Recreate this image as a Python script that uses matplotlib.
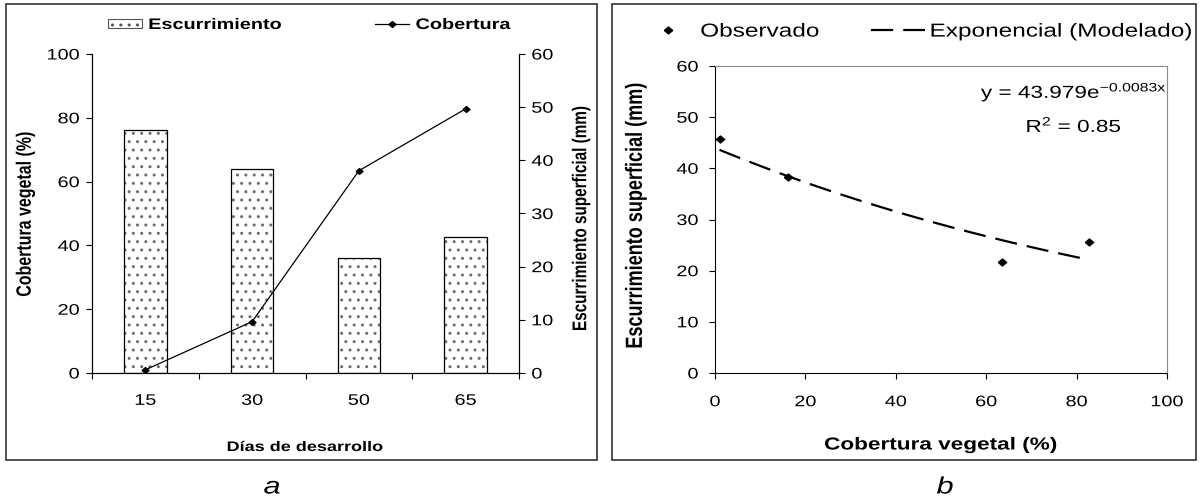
import numpy as np
import matplotlib
matplotlib.use('Agg')
import matplotlib.pyplot as plt
from matplotlib.patches import Rectangle
from matplotlib.lines import Line2D
from matplotlib.text import Text
from matplotlib.patheffects import AbstractPathEffect
from matplotlib.transforms import Affine2D

plt.rcParams['font.family'] = ['Liberation Sans', 'DejaVu Sans']
plt.rcParams['mathtext.fontset'] = 'custom'
plt.rcParams['mathtext.rm'] = 'Liberation Sans'
plt.rcParams['mathtext.it'] = 'Liberation Sans:italic'
plt.rcParams['hatch.linewidth'] = 1.0

# datos: dias de desarrollo, cobertura vegetal (%) y escurrimiento superficial (mm)
dias = ['15', '30', '50', '65']
cobertura = [1.0, 16.1, 63.4, 82.8]
escurrimiento = [45.7, 38.3, 21.7, 25.6]

# ajuste exponencial y = a*exp(b*x)
fit_a = 43.979
fit_b = -0.0083
fit_r2 = 0.85

W, H = 1200, 498
STRETCH = 1.3


def fx(x):
    return x / W


def fy(y):
    return 1 - y / H


def axes_box(left, top, right, bottom):
    return [fx(left), fy(bottom), (right - left) / W, (bottom - top) / H]


class Wide(AbstractPathEffect):
    """Ensancha los glifos en horizontal sin mover el punto de anclaje."""

    def __init__(self, factor, ha='center', vertical=False):
        super().__init__()
        self.factor = factor
        self.ha = ha
        self.vertical = vertical

    def draw_path(self, renderer, gc, tpath, affine, rgbFace=None):
        ext = tpath.get_extents()
        if self.vertical:
            c = (ext.y0 + ext.y1) / 2
            t = Affine2D().translate(0, -c).scale(1, self.factor).translate(0, c)
        else:
            c = {'left': ext.x0, 'right': ext.x1}.get(self.ha, (ext.x0 + ext.x1) / 2)
            t = Affine2D().translate(-c, 0).scale(self.factor, 1).translate(c, 0)
        renderer.draw_path(gc, tpath, t + affine, rgbFace)


# rombo algo mas ancho que alto
rombo = [(-1.2, 0), (0, 1), (1.2, 0), (0, -1), (-1.2, 0)]

fig = plt.figure(figsize=(W / 100, H / 100), dpi=100)

# marcos de cada panel
for x0, x1 in [(6, 597), (612, 1196)]:
    fig.add_artist(Rectangle((fx(x0), fy(460)), (x1 - x0) / W, 456 / H,
                             transform=fig.transFigure, fill=False,
                             edgecolor='#333333', linewidth=1.2))

# ---- panel a: barras de escurrimiento y linea de cobertura ----
ax = fig.add_axes(axes_box(92, 54, 519, 373))
ax2 = ax.twinx()
ax.set_zorder(ax2.get_zorder() + 1)
ax.patch.set_visible(False)

pos = np.arange(len(dias))
ax2.bar(pos, escurrimiento, width=0.4, color='white', edgecolor='#6e6e6e',
        linewidth=0, hatch='..')
ax2.bar(pos, escurrimiento, width=0.4, fill=False, edgecolor='black', linewidth=0.9)
ax.plot(pos, cobertura, color='black', linewidth=0.9, marker=rombo, markersize=5)

ax.set_xlim(-0.5, 3.5)
ax.set_ylim(0, 100)
ax2.set_ylim(0, 60)
ax.set_yticks(range(0, 101, 20))
ax2.set_yticks(range(0, 61, 10))
ax.set_xticks(np.arange(-0.5, 4, 1))
ax.set_xticklabels([])
ax.set_xticks(pos, minor=True)
ax.set_xticklabels(dias, minor=True)
ax.tick_params(axis='x', which='minor', length=0, pad=15, labelsize=11)
ax.tick_params(axis='x', which='major', length=4, width=0.8, direction='out')
ax.tick_params(axis='y', length=4, width=0.8, direction='out', pad=5, labelsize=11)
ax2.tick_params(axis='y', length=4, width=0.8, direction='out', pad=5, labelsize=11)
for a in (ax, ax2):
    a.spines['top'].set_visible(False)
    for s in a.spines.values():
        s.set_linewidth(0.8)

fig.text(fx(305), fy(447), 'Días de desarrollo', ha='center', va='center',
         fontsize=10, fontweight='bold')
fig.text(fx(25), fy(214), 'Cobertura vegetal (%)', ha='center', va='center',
         rotation=90, fontsize=11.5, fontweight='bold')
fig.text(fx(581), fy(218), 'Escurrimiento superficial (mm)', ha='center', va='center',
         rotation=90, fontsize=11, fontweight='bold')

leg_a = [Rectangle((0, 0), 1, 1, facecolor='white', edgecolor='#555555',
                   hatch='..', linewidth=0.8),
         Line2D([], [], color='black', linewidth=0.9, marker=rombo, markersize=5)]
fig.legend(leg_a, ['Escurrimiento', 'Cobertura'], loc='center left',
           bbox_to_anchor=(fx(108), fy(25)), bbox_transform=fig.transFigure,
           ncol=2, frameon=False, borderpad=0, borderaxespad=0,
           handlelength=2.2, handleheight=0.5, handletextpad=0.45,
           columnspacing=8.1, prop={'size': 11, 'weight': 'bold'})

# ---- panel b: escurrimiento contra cobertura con ajuste exponencial ----
bx = fig.add_axes(axes_box(715, 66, 1167, 373))
xs = np.linspace(min(cobertura), max(cobertura), 100)
bx.plot(xs, fit_a * np.exp(fit_b * xs), color='black', linewidth=1.6,
        linestyle=(0, (10, 4.5)))
bx.plot(cobertura, escurrimiento, linestyle='none', color='black',
        marker=rombo, markersize=6)
bx.set_xlim(0, 100)
bx.set_ylim(0, 60)
bx.set_xticks(range(0, 101, 20))
bx.set_yticks(range(0, 61, 10))
bx.tick_params(length=4, width=0.8, direction='out', labelsize=11)
bx.tick_params(axis='x', pad=12)
bx.tick_params(axis='y', pad=8)
for side in ('top', 'right'):
    bx.spines[side].set_color('#8c8c8c')
for s in bx.spines.values():
    s.set_linewidth(0.8)

bx.text(fx(1074), fy(92), r'y = 43.979e$\mathregular{^{-0.0083x}}$',
        transform=fig.transFigure, ha='center', va='center', fontsize=12.5)
bx.text(fx(1074), fy(125), r'R$\mathregular{^2}$ = %.2f' % fit_r2,
        transform=fig.transFigure, ha='center', va='center', fontsize=12.5)

fig.text(fx(941), fy(445), 'Cobertura vegetal (%)', ha='center', va='center',
         fontsize=12.5, fontweight='bold')
fig.text(fx(636), fy(216), 'Escurrimiento superficial (mm)', ha='center', va='center',
         rotation=90, fontsize=13, fontweight='bold')

leg_b = [Line2D([], [], linestyle='none', color='black', marker=rombo, markersize=6),
         Line2D([], [], color='black', linewidth=1.6, linestyle=(0, (10, 4.5)))]
fig.legend(leg_b, ['Observado', 'Exponencial (Modelado)'], loc='center left',
           bbox_to_anchor=(fx(641), fy(32)), bbox_transform=fig.transFigure,
           ncol=2, frameon=False, borderpad=0, borderaxespad=0,
           handlelength=2.9, handletextpad=0.27, columnspacing=4.2,
           prop={'size': 13.5})

# rotulos de los paneles
fig.text(fx(272), fy(487), 'a', ha='center', va='center', fontsize=17, style='italic')
fig.text(fx(945), fy(487), 'b', ha='center', va='center', fontsize=17, style='italic')

# crear las etiquetas de los ejes y luego ensanchar todo el texto
fig.canvas.draw()
for t in fig.findobj(Text):
    if t.get_text():
        t.set_path_effects([Wide(STRETCH, t.get_ha(), t.get_rotation() == 90)])

fig.savefig('out.png', dpi=100)
